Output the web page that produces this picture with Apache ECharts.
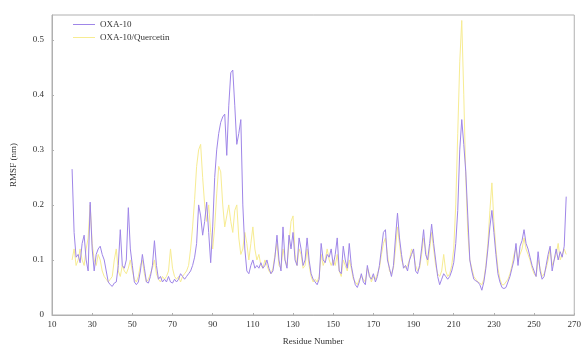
<!DOCTYPE html>
<html>
<head>
<meta charset="utf-8">
<script src="https://cdn.jsdelivr.net/npm/echarts@6/dist/echarts.min.js"></script>
<style>
  html, body { margin: 0; padding: 0; background: #fff; }
  #chart { width: 584px; height: 351px; }
</style>
</head>
<body>
<div id="chart"></div>
<script>
// residues 20 .. 266, one value per residue
const firstResidue = 20;
const seriesNames = ['OXA-10', 'OXA-10/Quercetin'];
const xTicks = [10, 30, 50, 70, 90, 110, 130, 150, 170, 190, 210, 230, 250, 270];
const yTicks = [0, 0.1, 0.2, 0.3, 0.4, 0.5];

const oxa10 = [
  0.265, 0.15, 0.105, 0.11, 0.095, 0.13, 0.145, 0.10, 0.08, 0.205,
  0.12, 0.08, 0.11, 0.12, 0.125, 0.11, 0.10, 0.08, 0.06, 0.055,
  0.052, 0.058, 0.06, 0.09, 0.155, 0.09, 0.085, 0.10, 0.195, 0.12,
  0.09, 0.06, 0.055, 0.06, 0.08, 0.11, 0.085, 0.06, 0.058, 0.07,
  0.09, 0.135, 0.09, 0.065, 0.07, 0.06, 0.065, 0.06, 0.07, 0.06,
  0.058, 0.065, 0.06, 0.065, 0.075, 0.07, 0.065, 0.07, 0.075, 0.08,
  0.09, 0.105, 0.13, 0.20, 0.18, 0.145, 0.17, 0.205, 0.15, 0.095,
  0.16, 0.25, 0.30, 0.33, 0.35, 0.36, 0.365, 0.29, 0.38, 0.44,
  0.445, 0.38, 0.31, 0.33, 0.355, 0.20, 0.12, 0.08, 0.075, 0.09,
  0.10, 0.085, 0.09, 0.085, 0.095, 0.085, 0.09, 0.10, 0.085, 0.075,
  0.08, 0.105, 0.145, 0.10, 0.08, 0.16, 0.10, 0.085, 0.145, 0.12,
  0.15, 0.10, 0.09, 0.14, 0.12, 0.09, 0.10, 0.14, 0.10, 0.075,
  0.065, 0.06, 0.055, 0.065, 0.13, 0.10, 0.095, 0.11, 0.105, 0.12,
  0.09, 0.11, 0.14, 0.08, 0.075, 0.125, 0.10, 0.085, 0.13, 0.09,
  0.07, 0.055, 0.05, 0.06, 0.075, 0.06, 0.055, 0.09, 0.07, 0.065,
  0.075, 0.06, 0.07, 0.09, 0.12, 0.15, 0.155, 0.10, 0.085, 0.07,
  0.09, 0.14, 0.185, 0.14, 0.11, 0.085, 0.09, 0.08, 0.10, 0.11,
  0.12, 0.08, 0.075, 0.09, 0.12, 0.155, 0.11, 0.10, 0.13, 0.165,
  0.13, 0.10, 0.07, 0.055, 0.065, 0.075, 0.07, 0.065, 0.07, 0.08,
  0.095, 0.13, 0.19, 0.30, 0.355, 0.31, 0.26, 0.18, 0.10, 0.08,
  0.065, 0.062, 0.06, 0.055, 0.045, 0.06, 0.085, 0.12, 0.16, 0.19,
  0.15, 0.11, 0.075, 0.06, 0.05, 0.048, 0.05, 0.06, 0.07, 0.085,
  0.10, 0.13, 0.09, 0.125, 0.135, 0.155, 0.13, 0.12, 0.105, 0.09,
  0.08, 0.07, 0.115, 0.08, 0.065, 0.07, 0.09, 0.11, 0.125, 0.08,
  0.10, 0.12, 0.10, 0.115, 0.105, 0.125, 0.215
];

const oxa10Quercetin = [
  0.10, 0.12, 0.09, 0.10, 0.12, 0.10, 0.09, 0.12, 0.14, 0.20,
  0.13, 0.10, 0.09, 0.11, 0.10, 0.08, 0.07, 0.065, 0.06, 0.065,
  0.07, 0.10, 0.12, 0.08, 0.07, 0.09, 0.08, 0.075, 0.085, 0.10,
  0.08, 0.065, 0.06, 0.07, 0.09, 0.10, 0.075, 0.06, 0.065, 0.075,
  0.085, 0.10, 0.075, 0.065, 0.06, 0.07, 0.065, 0.07, 0.08, 0.12,
  0.085, 0.07, 0.065, 0.07, 0.06, 0.07, 0.075, 0.08, 0.09, 0.12,
  0.16, 0.21, 0.27, 0.30, 0.31, 0.25, 0.20, 0.17, 0.20, 0.15,
  0.12, 0.16, 0.22, 0.27, 0.26, 0.20, 0.16, 0.18, 0.20, 0.17,
  0.15, 0.19, 0.20, 0.14, 0.11, 0.12, 0.15, 0.13, 0.10, 0.13,
  0.16, 0.12, 0.10, 0.11, 0.09, 0.085, 0.10, 0.09, 0.08, 0.075,
  0.085, 0.11, 0.13, 0.09, 0.085, 0.12, 0.10, 0.09, 0.13, 0.17,
  0.18, 0.11, 0.09, 0.12, 0.11, 0.085, 0.09, 0.12, 0.09, 0.07,
  0.06, 0.065, 0.06, 0.07, 0.11, 0.09, 0.10, 0.12, 0.10, 0.09,
  0.10, 0.09, 0.11, 0.08, 0.07, 0.10, 0.09, 0.08, 0.10, 0.085,
  0.065, 0.06, 0.055, 0.065, 0.07, 0.065, 0.06, 0.085, 0.075, 0.06,
  0.07, 0.065, 0.075, 0.085, 0.11, 0.13, 0.14, 0.11, 0.08, 0.075,
  0.085, 0.12, 0.16, 0.13, 0.10, 0.09, 0.085, 0.09, 0.10, 0.12,
  0.11, 0.09, 0.08, 0.085, 0.11, 0.14, 0.12, 0.09, 0.12, 0.15,
  0.12, 0.09, 0.075, 0.07, 0.08, 0.11, 0.08, 0.07, 0.075, 0.09,
  0.12, 0.20, 0.33, 0.46, 0.535, 0.40, 0.25, 0.15, 0.10, 0.085,
  0.07, 0.065, 0.06, 0.058, 0.055, 0.065, 0.09, 0.13, 0.19, 0.24,
  0.17, 0.12, 0.085, 0.065, 0.055, 0.055, 0.06, 0.065, 0.075, 0.09,
  0.11, 0.12, 0.10, 0.11, 0.12, 0.14, 0.12, 0.11, 0.10, 0.085,
  0.075, 0.07, 0.10, 0.085, 0.07, 0.075, 0.085, 0.10, 0.12, 0.09,
  0.10, 0.11, 0.13, 0.10, 0.11, 0.12, 0.11
];

function toPairs(values) {
  return values.map(function (v, i) { return [firstResidue + i, v]; });
}

const font = "'Liberation Serif', 'DejaVu Serif', serif";
const purple = '#9f86e8';
const yellow = '#f7ec92';
const chart = echarts.init(document.getElementById('chart'));

chart.setOption({
  animation: false,
  backgroundColor: '#fff',
  grid: {
    left: 52, right: 8, top: 15, bottom: 34,
    show: true, borderColor: '#b0b0b0', borderWidth: 1
  },
  legend: {
    data: seriesNames,
    orient: 'vertical',
    left: 68, top: 15,
    icon: 'rect',
    itemWidth: 22, itemHeight: 1, itemGap: 4,
    textStyle: { fontFamily: font, fontSize: 9, color: '#333' }
  },
  xAxis: {
    type: 'value',
    min: xTicks[0], max: xTicks[xTicks.length - 1], interval: 20,
    name: 'Residue Number',
    nameLocation: 'middle', nameGap: 22,
    nameTextStyle: { fontFamily: font, fontSize: 9, color: '#333' },
    axisLine: { lineStyle: { color: '#b0b0b0' } },
    axisTick: { inside: true, length: 2, lineStyle: { color: '#b0b0b0' } },
    axisLabel: { fontFamily: font, fontSize: 9, color: '#333', margin: 5 },
    splitLine: { show: false }
  },
  yAxis: {
    type: 'value',
    min: yTicks[0], max: 0.545, interval: 0.1,
    name: 'RMSF (nm)',
    nameLocation: 'middle', nameGap: 34,
    nameTextStyle: { fontFamily: font, fontSize: 9, color: '#333' },
    axisLine: { show: true, lineStyle: { color: '#b0b0b0' } },
    axisTick: { show: true, inside: true, length: 2, lineStyle: { color: '#b0b0b0' } },
    axisLabel: {
      fontFamily: font, fontSize: 9, color: '#333', margin: 8,
      showMaxLabel: false,
      formatter: function (v) { return String(Math.round(v * 10) / 10); }
    },
    splitLine: { show: false }
  },
  series: [
    {
      name: seriesNames[1],
      type: 'line',
      data: toPairs(oxa10Quercetin),
      symbol: 'none',
      z: 2,
      lineStyle: { color: yellow, width: 1 },
      itemStyle: { color: yellow }
    },
    {
      name: seriesNames[0],
      type: 'line',
      data: toPairs(oxa10),
      symbol: 'none',
      z: 3,
      lineStyle: { color: purple, width: 1 },
      itemStyle: { color: purple }
    }
  ]
});
</script>
</body>
</html>
